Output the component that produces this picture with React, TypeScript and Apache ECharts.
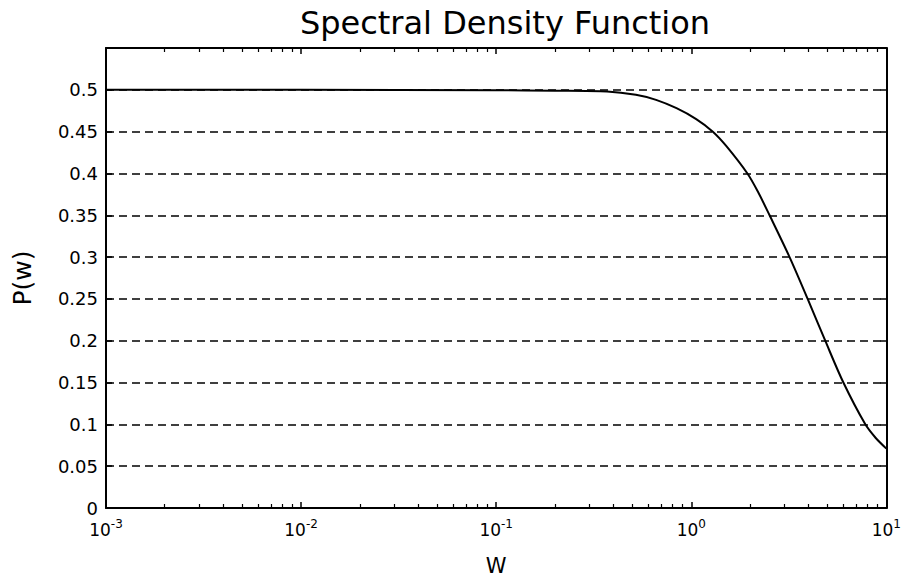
import React, { useEffect, useRef } from "react";
import * as echarts from "echarts";

const wValues = [0.001, 0.01, 0.1, 0.2, 0.37, 0.52, 0.66, 0.84, 1.06, 1.29, 1.51, 1.94, 2.21, 2.52, 3.19, 3.95, 4.86, 6.02, 7.8, 8.8, 10];
const pValues = [0.5, 0.5, 0.4995, 0.499, 0.498, 0.494, 0.488, 0.478, 0.465, 0.45, 0.433, 0.4, 0.377, 0.35, 0.3, 0.25, 0.2, 0.15, 0.1, 0.084, 0.071];

const xMajorTicks = [0.001, 0.01, 0.1, 1, 10];
const xMinorTicks = [
  0.002, 0.003, 0.004, 0.005, 0.006, 0.007, 0.008, 0.009,
  0.02, 0.03, 0.04, 0.05, 0.06, 0.07, 0.08, 0.09,
  0.2, 0.3, 0.4, 0.5, 0.6, 0.7, 0.8, 0.9,
  2, 3, 4, 5, 6, 7, 8, 9,
];

const titleText = "Spectral Density Function";
const xName = "W";
const yName = "P(w)";

const FONT = "'DejaVu Sans', Verdana, sans-serif";

export default function App() {
  const ref = useRef<HTMLDivElement>(null);
  useEffect(() => {
    document.body.style.margin = "0";
    const chart = echarts.init(ref.current!, null, { renderer: "svg" });
    const data = wValues.map((w, i) => [w, pValues[i]]);
    const baseX = {
      type: "log" as const,
      logBase: 10,
      min: 0.001,
      max: 10,
      gridIndex: 0,
    };
    chart.setOption({
      animation: false,
      backgroundColor: "#fff",
      textStyle: { fontFamily: FONT, color: "#000" },
      title: {
        text: titleText,
        left: 500,
        textAlign: "center",
        top: 2,
        textStyle: { fontFamily: FONT, fontSize: 32, fontWeight: "normal", color: "#000" },
      },
      grid: { left: 106, right: 15, top: 48, bottom: 66 },
      xAxis: [
        {
          ...baseX,
          position: "bottom",
          name: xName,
          nameLocation: "middle",
          nameGap: 47,
          nameTextStyle: { fontFamily: FONT, fontSize: 21, color: "#000" },
          axisLine: { show: true, lineStyle: { color: "#000", width: 2 } },
          axisTick: { show: true, inside: true, length: 6, customValues: xMajorTicks, lineStyle: { color: "#000", width: 1.5 } },
          splitLine: { show: false },
          minorTick: { show: false },
          axisLabel: {
            customValues: xMajorTicks,
            margin: 10,
            color: "#000",
            formatter: (v: number) => `{b|10}{s|${Math.round(Math.log10(v))}}`,
            rich: {
              b: { fontFamily: FONT, fontSize: 17, color: "#000" },
              s: { fontFamily: FONT, fontSize: 12, color: "#000", padding: [0, 0, 12, 0] },
            },
          },
        },
        {
          ...baseX,
          position: "bottom",
          axisLine: { show: false },
          axisTick: { show: true, inside: true, length: 4, customValues: xMinorTicks, lineStyle: { color: "#000", width: 1.2 } },
          axisLabel: { show: false },
          splitLine: { show: false },
        },
        {
          ...baseX,
          position: "top",
          axisLine: { show: true, lineStyle: { color: "#000", width: 2 } },
          axisTick: { show: true, inside: true, length: 6, customValues: xMajorTicks, lineStyle: { color: "#000", width: 1.5 } },
          axisLabel: { show: false },
          splitLine: { show: false },
        },
        {
          ...baseX,
          position: "top",
          axisLine: { show: false },
          axisTick: { show: true, inside: true, length: 4, customValues: xMinorTicks, lineStyle: { color: "#000", width: 1.2 } },
          axisLabel: { show: false },
          splitLine: { show: false },
        },
      ],
      yAxis: [
        {
          type: "value",
          position: "left",
          min: 0,
          max: 0.55,
          interval: 0.05,
          name: yName,
          nameLocation: "middle",
          nameRotate: 90,
          nameGap: 71,
          nameTextStyle: { fontFamily: FONT, fontSize: 25, color: "#000" },
          axisLine: { show: true, lineStyle: { color: "#000", width: 2 } },
          axisTick: { show: true, inside: true, length: 6, lineStyle: { color: "#000", width: 1.5 } },
          axisLabel: {
            margin: 8,
            fontFamily: FONT,
            fontSize: 18,
            color: "#000",
            formatter: (v: number) => (v > 0.54 ? "" : String(parseFloat(v.toFixed(2)))),
          },
          splitLine: { show: true, lineStyle: { color: "#000", width: 1.5, type: [8, 5] } },
        },
        {
          type: "value",
          position: "right",
          min: 0,
          max: 0.55,
          interval: 0.05,
          axisLine: { show: true, lineStyle: { color: "#000", width: 2 } },
          axisTick: { show: true, inside: true, length: 6, lineStyle: { color: "#000", width: 1.5 } },
          axisLabel: { show: false },
          splitLine: { show: false },
        },
      ],
      series: [
        {
          type: "line",
          xAxisIndex: 0,
          yAxisIndex: 0,
          data,
          smooth: 0.3,
          showSymbol: false,
          symbol: "none",
          lineStyle: { color: "#000", width: 2 },
          z: 5,
        },
      ],
    });
    return () => chart.dispose();
  }, []);
  return <div ref={ref} style={{ width: 904, height: 581 }} />;
}
